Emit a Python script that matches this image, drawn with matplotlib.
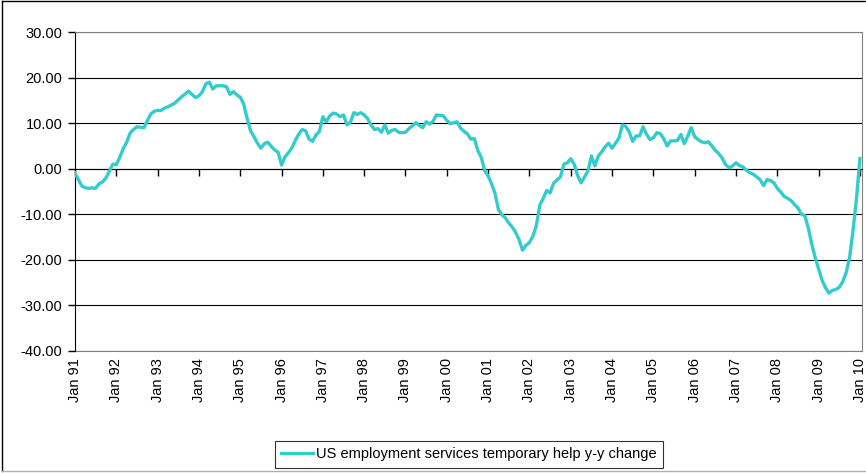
import matplotlib
matplotlib.use("Agg")
import matplotlib.pyplot as plt
from matplotlib.lines import Line2D

plt.rcParams["font.family"] = ["Liberation Sans", "DejaVu Sans"]

# monthly y-y change, Jan 1991 .. Jan 2010
y1991 = [-1.0, -2.4, -3.8, -4.2, -4.3, -4.2, -4.3, -3.3, -2.9, -2.0, -0.5, 1.0]
y1992 = [0.9, 2.5, 4.4, 5.8, 7.8, 8.6, 9.2, 9.1, 9.0, 10.5, 12.0, 12.6]
y1993 = [12.8, 12.8, 13.3, 13.6, 14.0, 14.4, 15.1, 15.8, 16.4, 17.0, 16.3, 15.6]
y1994 = [16.0, 16.9, 18.6, 19.0, 17.5, 18.2, 18.2, 18.2, 18.0, 16.3, 16.9, 16.2]
y1995 = [15.7, 14.2, 11.0, 8.3, 7.0, 5.6, 4.5, 5.5, 5.8, 4.9, 4.1, 3.6]
y1996 = [0.8, 2.6, 3.5, 4.6, 6.2, 7.6, 8.6, 8.3, 6.5, 6.0, 7.4, 8.2]
y1997 = [11.4, 10.3, 11.6, 12.2, 12.0, 11.4, 11.8, 9.6, 10.2, 12.3, 11.9, 12.3]
y1998 = [11.8, 11.0, 9.6, 8.6, 8.8, 8.0, 9.6, 7.8, 8.4, 8.6, 8.0, 7.9]
y1999 = [8.0, 8.8, 9.4, 10.1, 9.5, 9.0, 10.3, 9.8, 10.4, 11.8, 11.7, 11.6]
y2000 = [10.6, 9.9, 10.1, 10.3, 8.9, 8.2, 7.6, 6.5, 6.6, 4.0, 2.5, -0.4]
y2001 = [-1.6, -3.3, -5.4, -9.0, -10.1, -10.8, -11.9, -12.8, -14.0, -15.6, -17.9, -16.8]
y2002 = [-16.2, -14.8, -12.5, -8.0, -6.5, -4.8, -5.3, -3.2, -2.5, -1.8, 1.0, 1.3]
y2003 = [2.2, 1.0, -1.5, -3.1, -1.8, -0.5, 2.8, 0.6, 2.8, 3.7, 4.8, 5.6]
y2004 = [4.5, 5.6, 6.7, 9.6, 9.3, 8.0, 6.0, 7.2, 7.2, 9.2, 7.6, 6.4]
y2005 = [6.8, 7.9, 7.7, 6.6, 5.0, 6.1, 6.1, 6.2, 7.5, 5.5, 7.2, 9.0]
y2006 = [7.0, 6.4, 5.9, 5.7, 5.9, 5.0, 4.0, 3.3, 2.3, 0.9, 0.2, 0.6]
y2007 = [1.3, 0.7, 0.4, -0.3, -0.9, -1.2, -1.8, -2.4, -3.7, -2.4, -2.6, -3.1]
y2008 = [-4.3, -5.1, -6.1, -6.5, -7.0, -7.9, -8.6, -10.0, -10.3, -13.0, -16.5, -19.5]
y2009 = [-22.0, -24.5, -26.1, -27.3, -26.7, -26.5, -26.0, -24.8, -22.8, -19.5, -13.5, -6.5]
y2010 = [2.2]

values = (y1991 + y1992 + y1993 + y1994 + y1995 + y1996 + y1997 + y1998 + y1999
          + y2000 + y2001 + y2002 + y2003 + y2004 + y2005 + y2006 + y2007 + y2008
          + y2009 + y2010)
months = list(range(len(values)))

tick_labels = ["Jan 91", "Jan 92", "Jan 93", "Jan 94", "Jan 95", "Jan 96", "Jan 97",
               "Jan 98", "Jan 99", "Jan 00", "Jan 01", "Jan 02", "Jan 03", "Jan 04",
               "Jan 05", "Jan 06", "Jan 07", "Jan 08", "Jan 09", "Jan 10"]
tick_pos = [12 * i for i in range(len(tick_labels))]
y_ticks = [30, 20, 10, 0, -10, -20, -30, -40]

fig = plt.figure(figsize=(8.66, 4.73), dpi=100)
ax = fig.add_axes([75 / 866, 1 - 351 / 473, 787 / 866, 319 / 473])

ax.plot(months, values, color="#33CCCC", linewidth=2.4, zorder=3,
        label="US employment services temporary help y-y change")

ax.set_xlim(0, 228.6)
ax.set_ylim(-40, 30)
ax.set_yticks(y_ticks)
ax.set_yticklabels([f"{v:.2f}" for v in y_ticks], fontsize=10.5)
ax.tick_params(axis="y", direction="out", length=5, width=1, pad=4, color="black")

ax.set_axisbelow(True)
ax.yaxis.grid(True, color="black", linewidth=0.8)

# category axis crosses at zero, labels stay at the bottom
ax.spines["bottom"].set_position(("data", 0))
ax.spines["bottom"].set_color("black")
ax.set_xticks(tick_pos)
ax.tick_params(axis="x", direction="out", length=5, width=1, color="black",
               labelbottom=False)
for side in ["top", "right"]:
    ax.spines[side].set_color("#808080")
ax.spines["left"].set_color("black")

sec = ax.secondary_xaxis(0)
sec.set_xticks(tick_pos)
sec.set_xticklabels(tick_labels, rotation=90, fontsize=10.5)
sec.tick_params(length=0, pad=5)
sec.spines["bottom"].set_color("#808080")

leg = fig.legend(loc="lower center", bbox_to_anchor=(469 / 866, 5 / 473),
                 fontsize=10.5, frameon=True, fancybox=False, handlelength=2.2,
                 handletextpad=0.2, borderpad=0.45, borderaxespad=0)
leg.get_frame().set_edgecolor("black")
leg.get_frame().set_linewidth(0.8)

# outer chart border (right side is cut off in the original)
fig.add_artist(Line2D([1.5 / 866, 1.5 / 866], [0.004, 0.997], color="black", lw=1))
fig.add_artist(Line2D([1.5 / 866, 1.0], [0.997, 0.997], color="black", lw=1))
fig.add_artist(Line2D([1.5 / 866, 1.0], [0.004, 0.004], color="#b0b0b0", lw=1))

fig.savefig("out.png", dpi=100)
